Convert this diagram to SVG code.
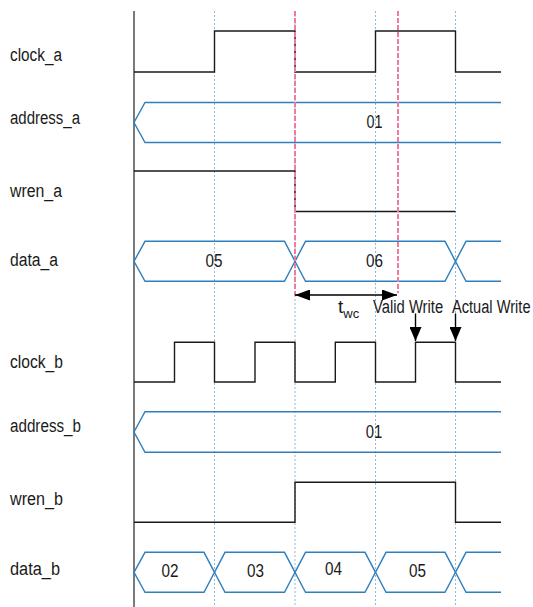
<svg xmlns="http://www.w3.org/2000/svg" width="533" height="607" viewBox="0 0 533 607">
<style>
.lbl{font-family:"Liberation Sans",Arial,sans-serif;font-size:18px;fill:#1a1a1a}
.val{font-family:"Liberation Sans",Arial,sans-serif;font-size:19px;fill:#1a1a1a;text-anchor:middle}
.ann{font-family:"Liberation Sans",Arial,sans-serif;font-size:19px;fill:#1a1a1a}
.sig{fill:none;stroke:#1a1a1a;stroke-width:1.4}
.bus{fill:none;stroke:#2f7fbd;stroke-width:1.4}
.grid{stroke:#8cb9df;stroke-width:1;stroke-dasharray:2 2}
.mark{stroke:#f27a9b;stroke-width:2;stroke-dasharray:5 2}
.axis{stroke:#7a7a7a;stroke-width:2}
.arr{stroke:#000;stroke-width:1.4;fill:none}
</style>
<defs>
<marker id="ah" viewBox="0 0 15 11" refX="15" refY="5.5" markerWidth="15" markerHeight="11" markerUnits="userSpaceOnUse" orient="auto-start-reverse">
<path d="M0,0 L15,5.5 L0,11 Z" fill="#000"/>
</marker>
<marker id="ad" viewBox="0 0 14 12" refX="14" refY="6" markerWidth="14" markerHeight="12" markerUnits="userSpaceOnUse" orient="auto">
<path d="M0,0 L14,6 L0,12 Z" fill="#000"/>
</marker>
</defs>

<g id="grid">
<line class="grid" x1="214.5" y1="11" x2="214.5" y2="607"/>
<line class="grid" x1="295" y1="11" x2="295" y2="607"/>
<line class="grid" x1="375.5" y1="11" x2="375.5" y2="607"/>
<line class="grid" x1="455.5" y1="11" x2="455.5" y2="607"/>
<line class="axis" x1="134" y1="11" x2="134" y2="607"/>
</g>

<g id="clock_a">
<text class="lbl" x="10" y="60.5" textLength="52" lengthAdjust="spacingAndGlyphs">clock_a</text>
<path class="sig" d="M134,72 H214.5 V31 H295 V72 H375.5 V31 H455.5 V72 H501"/>
</g>

<g id="address_a">
<text class="lbl" x="10" y="124" textLength="70" lengthAdjust="spacingAndGlyphs">address_a</text>
<path class="bus" d="M501,102.5 H145 L134,122.5 L145,142.5 H501"/>
<text class="val" x="374.5" y="127.5" textLength="16" lengthAdjust="spacingAndGlyphs">01</text>
</g>

<g id="wren_a">
<text class="lbl" x="10" y="197" textLength="52" lengthAdjust="spacingAndGlyphs">wren_a</text>
<path class="sig" d="M134,171 H295 V211.5 H455.5"/>
</g>

<g id="data_a">
<text class="lbl" x="10" y="266" textLength="48" lengthAdjust="spacingAndGlyphs">data_a</text>
<path class="bus" d="M134,261.3 L145,241.3 H284.5 L295,261.3 L284.5,281.3 H145 Z"/>
<path class="bus" d="M295,261.3 L305.5,241.3 H445 L455.5,261.3 L445,281.3 H305.5 Z"/>
<path class="bus" d="M501,241.3 H466 L455.5,261.3 L466,281.3 H501"/>
<text class="val" x="214" y="267" textLength="17" lengthAdjust="spacingAndGlyphs">05</text>
<text class="val" x="374.5" y="267" textLength="17" lengthAdjust="spacingAndGlyphs">06</text>
</g>

<g id="clock_b">
<text class="lbl" x="10" y="368" textLength="53" lengthAdjust="spacingAndGlyphs">clock_b</text>
<path class="sig" d="M134,382 H174.5 V342.3 H214.5 V382 H255 V342.3 H295 V382 H335.3 V342.3 H375.5 V382 H415.5 V342.3 H455.5 V382 H501"/>
</g>

<g id="address_b">
<text class="lbl" x="10" y="431.5" textLength="71" lengthAdjust="spacingAndGlyphs">address_b</text>
<path class="bus" d="M501,411.7 H145 L134,432 L145,452.3 H501"/>
<text class="val" x="374" y="437.5" textLength="16.5" lengthAdjust="spacingAndGlyphs">01</text>
</g>

<g id="wren_b">
<text class="lbl" x="10" y="505" textLength="53" lengthAdjust="spacingAndGlyphs">wren_b</text>
<path class="sig" d="M134,522.3 H295 V482.3 H455.5 V522.3 H501"/>
</g>

<g id="data_b">
<text class="lbl" x="10" y="575" textLength="50" lengthAdjust="spacingAndGlyphs">data_b</text>
<path class="bus" d="M134,572.3 L145,552.3 H204 L214.5,572.3 L204,592.3 H145 Z"/>
<path class="bus" d="M214.5,572.3 L225,552.3 H284.5 L295,572.3 L284.5,592.3 H225 Z"/>
<path class="bus" d="M295,572.3 L305.5,552.3 H365 L375.5,572.3 L365,592.3 H305.5 Z"/>
<path class="bus" d="M375.5,572.3 L386,552.3 H445 L455.5,572.3 L445,592.3 H386 Z"/>
<path class="bus" d="M501,552.3 H466 L455.5,572.3 L466,592.3 H501"/>
<text class="val" x="170" y="576.5" textLength="17" lengthAdjust="spacingAndGlyphs">02</text>
<text class="val" x="255.5" y="576.5" textLength="17" lengthAdjust="spacingAndGlyphs">03</text>
<text class="val" x="333.5" y="575" textLength="17" lengthAdjust="spacingAndGlyphs">04</text>
<text class="val" x="417.5" y="576.5" textLength="17" lengthAdjust="spacingAndGlyphs">05</text>
</g>

<g id="markers">
<line class="mark" x1="295" y1="11" x2="295" y2="297"/>
<line class="mark" x1="398" y1="11" x2="398" y2="293"/>
</g>

<g id="connectors">
<line class="arr" x1="295" y1="295" x2="397" y2="295" marker-start="url(#ah)" marker-end="url(#ah)"/>
<line class="arr" x1="415.5" y1="313.5" x2="415.5" y2="341" marker-end="url(#ad)"/>
<line class="arr" x1="455.5" y1="313.5" x2="455.5" y2="341" marker-end="url(#ad)"/>
</g>

<g id="annotations">
<text class="ann" x="338" y="313">t<tspan font-size="13" dy="5">wc</tspan></text>
<text class="ann" transform="translate(373,312.5) scale(0.78,1)" x="0" y="0">Valid Write</text>
<text class="ann" transform="translate(452,312.5) scale(0.77,1)" x="0" y="0">Actual Write</text>
</g>
</svg>
